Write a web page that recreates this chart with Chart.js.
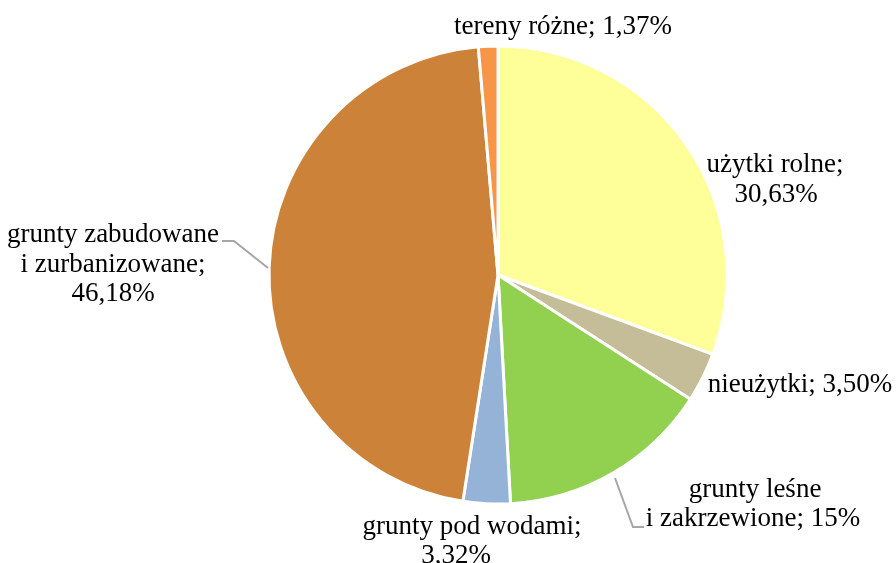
<!DOCTYPE html>
<html>
<head>
<meta charset="utf-8">
<script src="https://cdn.jsdelivr.net/npm/chart.js@4.4.1/dist/chart.umd.min.js"></script>
<style>
html,body{margin:0;padding:0;background:#fff;}
#wrap{width:896px;height:563px;position:relative;}
</style>
</head>
<body>
<div id="wrap"><canvas id="c"></canvas></div>
<script>
// Data (clockwise from top)
const categories = ["użytki rolne", "nieużytki", "grunty leśne i zakrzewione", "grunty pod wodami", "grunty zabudowane i zurbanizowane", "tereny różne"];
const values = [30.63, 3.50, 15, 3.32, 46.18, 1.37];
const valueLabels = ["30,63%", "3,50%", "15%", "3,32%", "46,18%", "1,37%"];
const colors = ["#FFFF99", "#C4BD97", "#92D050", "#95B3D7", "#CC8339", "#F79646"];

// Label text lines (as shown in the picture)
const labelLines = [
  ["użytki rolne;", "30,63%"],
  ["nieużytki; 3,50%"],
  ["grunty leśne", "i zakrzewione; 15%"],
  ["grunty pod wodami;", "3,32%"],
  ["grunty zabudowane", "i zurbanizowane;", "46,18%"],
  ["tereny różne; 1,37%"]
];

// Label layout (per-line center x, baseline y)
const labelLayout = [
  [[775, 172], [776, 202]],
  [[800, 392]],
  [[755, 497], [753, 526]],
  [[472, 534], [456, 563]],
  [[113, 242], [113, 272], [113, 301]],
  [[563, 34]]
];
const leaders = [
  [[222, 241], [234, 241], [268, 268]],
  [[615, 478], [633, 527], [644, 527]]
];

const labelPlugin = {
  id: 'labels',
  afterDraw(chart) {
    const ctx = chart.ctx;
    ctx.save();
    ctx.strokeStyle = '#A6A6A6';
    ctx.lineWidth = 2;
    leaders.forEach(pts => {
      ctx.beginPath();
      pts.forEach((p, i) => i ? ctx.lineTo(p[0], p[1]) : ctx.moveTo(p[0], p[1]));
      ctx.stroke();
    });
    ctx.fillStyle = '#000';
    ctx.font = '27px "Liberation Serif", "Times New Roman", serif';
    ctx.textAlign = 'center';
    ctx.textBaseline = 'alphabetic';
    labelLines.forEach((lines, i) => {
      lines.forEach((t, j) => {
        const p = labelLayout[i][j];
        ctx.fillText(t, p[0], p[1]);
      });
    });
    ctx.restore();
  }
};

new Chart(document.getElementById('c'), {
  type: 'pie',
  data: {
    labels: categories,
    datasets: [{
      data: values,
      backgroundColor: colors,
      borderColor: '#FFFFFF',
      borderWidth: 3
    }]
  },
  options: {
    responsive: true,
    maintainAspectRatio: false,
    animation: false,
    layout: { padding: { left: 267.5, right: 167.5, top: 44.5, bottom: 57.5 } },
    plugins: { legend: { display: false }, tooltip: { enabled: false } }
  },
  plugins: [labelPlugin]
});
</script>
</body>
</html>
